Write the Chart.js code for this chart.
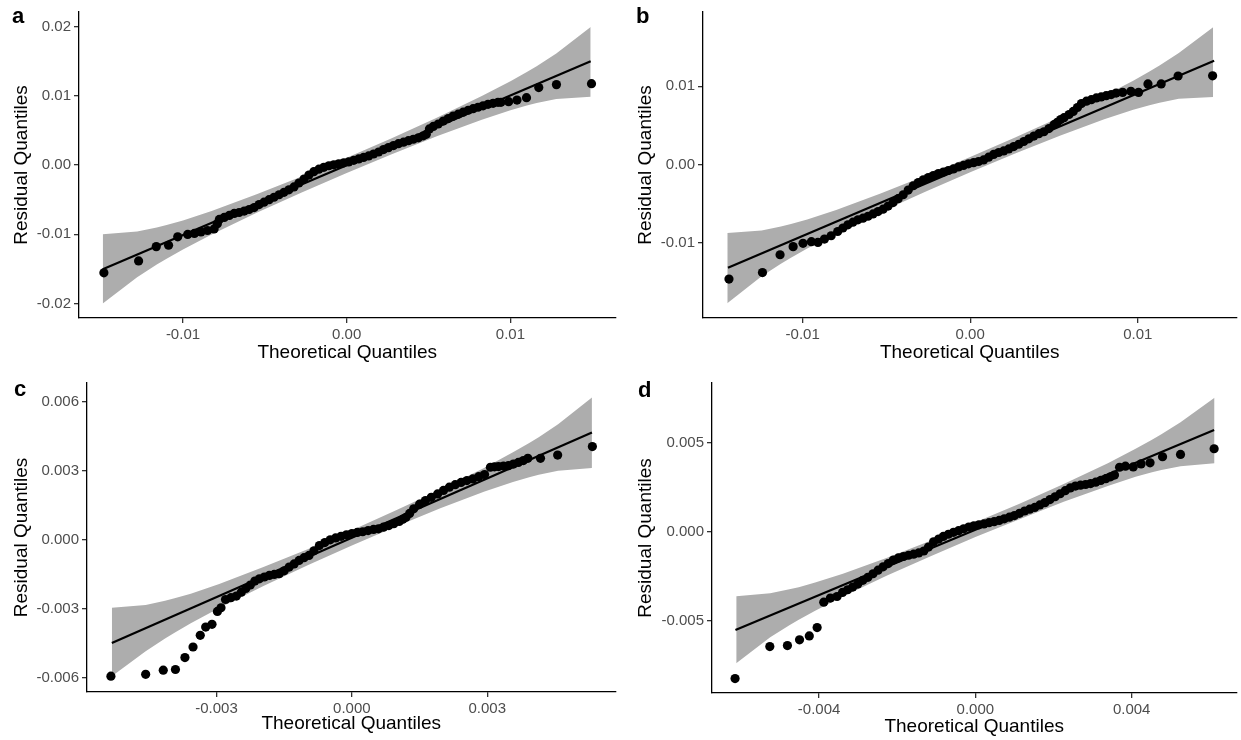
<!DOCTYPE html>
<html>
<head>
<meta charset="utf-8">
<script src="https://cdn.jsdelivr.net/npm/chart.js@4/dist/chart.umd.min.js"></script>
<style>
  body { margin: 0; background: #fff; }
  #wrap { position: relative; width: 1241px; height: 740px; overflow: hidden; font-family: "Liberation Sans", Arial, sans-serif; }
  canvas { position: absolute; }
  .tag { position: absolute; font-weight: bold; font-size: 22px; line-height: 22px; color: #000; }
</style>
</head>
<body>
<div id="wrap">
  <canvas id="ca" width="620" height="370" style="left:0;top:0"></canvas>
  <canvas id="cb" width="621" height="370" style="left:620px;top:0"></canvas>
  <canvas id="cc" width="620" height="370" style="left:0;top:370px"></canvas>
  <canvas id="cd" width="621" height="370" style="left:620px;top:370px"></canvas>
  <div class="tag" style="left:12px;top:5px">a</div>
  <div class="tag" style="left:636px;top:5px">b</div>
  <div class="tag" style="left:14px;top:378px">c</div>
  <div class="tag" style="left:638px;top:379px">d</div>
</div>
<script>
// panel a
const aX = [-0.01483, -0.01271, -0.01163, -0.01088, -0.01032, -0.00971, -0.0093, -0.0089, -0.0085, -0.0081, -0.0079,
  -0.00778, -0.00748, -0.00717, -0.00687, -0.00657, -0.00626, -0.00596, -0.00565, -0.00535, -0.00505, -0.00474, -0.00444,
  -0.00413, -0.00383, -0.00353, -0.00322, -0.00292, -0.00261, -0.00231, -0.00201, -0.0017, -0.0014, -0.00109, -0.00079,
  -0.00049, -0.00018, 0.00012, 0.00043, 0.00073, 0.00103, 0.00134, 0.00164, 0.00195, 0.00225, 0.00255, 0.00286, 0.00316,
  0.00347, 0.00377, 0.00407, 0.00438, 0.00468, 0.00486, 0.00505, 0.00529, 0.00559, 0.0059, 0.0062, 0.0065, 0.00681, 0.00711,
  0.00742, 0.00772, 0.00802, 0.00833, 0.00863, 0.00894, 0.00924, 0.00942, 0.00989, 0.0104, 0.01098, 0.01173, 0.01281, 0.01495]
const aY = [-0.01557, -0.01386, -0.01179, -0.01159, -0.01037, -0.01003, -0.00989, -0.00966, -0.00946, -0.00923, -0.0085,
  -0.00786, -0.00757, -0.00729, -0.007, -0.00686, -0.00665, -0.00643, -0.00615, -0.00572, -0.00537, -0.00501, -0.00466,
  -0.0043, -0.00395, -0.00359, -0.00317, -0.0026, -0.00203, -0.00146, -0.00097, -0.00061, -0.00033, -0.00011, 0.00003,
  0.00017, 0.00031, 0.00045, 0.00067, 0.00088, 0.00109, 0.00131, 0.00159, 0.00188, 0.00223, 0.00251, 0.0028, 0.00308,
  0.0033, 0.00351, 0.00372, 0.00393, 0.00422, 0.00443, 0.00521, 0.00557, 0.00592, 0.00635, 0.0067, 0.00706, 0.00734, 0.00763,
  0.00791, 0.00813, 0.00834, 0.00855, 0.00876, 0.00891, 0.00905, 0.00905, 0.00915, 0.00938, 0.00972, 0.01118, 0.01161, 0.01175]
const aLineX = [-0.0149, 0.0149]
const aLineY = [-0.01506, 0.01497]
const aBandX = [-0.0149, -0.0128, -0.0116, -0.011, -0.01, -0.00825, -0.0055, -0.00275, 0, 0.00275, 0.0055, 0.00825, 0.01, 0.011, 0.0116, 0.0128, 0.0149]
const aBandHi = [-0.01, -0.00962, -0.00903, -0.00867, -0.008, -0.00664, -0.00424, -0.00166, 0.00106, 0.00388, 0.00681, 0.00995, 0.0121, 0.01344, 0.01428, 0.01611, 0.01993]
const aBandLo = [-0.02, -0.0162, -0.01437, -0.01353, -0.0122, -0.01004, -0.0069, -0.00397, -0.00115, 0.00157, 0.00415, 0.00655, 0.0079, 0.00858, 0.00894, 0.00953, 0.00985]
const aXTicks = [-0.01, 0, 0.01]
const aYTicks = [-0.02, -0.01, 0, 0.01, 0.02]

// panel b
const bX = [-0.0144, -0.0124, -0.01135, -0.01057, -0.00998, -0.00948, -0.00909, -0.0087, -0.0083, -0.00791,
  -0.0076, -0.0073, -0.007, -0.0067, -0.0064, -0.0061, -0.0058, -0.0055, -0.0052, -0.0049, -0.0046, -0.0043, -0.004,
  -0.0037, -0.0034, -0.0031, -0.0028, -0.0025, -0.0022, -0.0019, -0.0016, -0.0013, -0.001, -0.0007, -0.0004, -0.0001,
  0.0002, 0.0005, 0.0008, 0.0011, 0.0014, 0.0017, 0.002, 0.0023, 0.0026, 0.0029, 0.0032, 0.0035, 0.0038, 0.0041, 0.0044,
  0.0047, 0.005, 0.0052, 0.0054, 0.0056, 0.0059, 0.00615, 0.0064, 0.00664, 0.00694, 0.00723, 0.00753, 0.00782, 0.00812,
  0.00842, 0.00871, 0.0091, 0.00959, 0.01005, 0.01061, 0.0114, 0.01241, 0.01447]
const bY = [-0.01463, -0.01379, -0.01152, -0.01048, -0.01006, -0.00985, -0.00994, -0.00951, -0.00909, -0.00855,
  -0.0081, -0.0077, -0.00735, -0.00705, -0.00685, -0.0066, -0.0063, -0.006, -0.0057, -0.0053, -0.00485, -0.00435, -0.00385,
  -0.00325, -0.0027, -0.0023, -0.00195, -0.00165, -0.0014, -0.00115, -0.00095, -0.00075, -0.00055, -0.0003, -0.0001, 0.0001,
  0.00025, 0.0004, 0.0006, 0.00095, 0.0013, 0.00155, 0.00175, 0.002, 0.0023, 0.0026, 0.00295, 0.0033, 0.00365, 0.00395, 0.0042,
  0.0046, 0.0051, 0.0054, 0.00575, 0.006, 0.0064, 0.0068, 0.0073, 0.0078, 0.0081, 0.0083, 0.00852, 0.00865, 0.00881,
  0.00895, 0.00914, 0.00923, 0.00936, 0.00923, 0.01031, 0.01031, 0.01132, 0.01135]
const bLineX = [-0.01446, 0.01456]
const bLineY = [-0.01317, 0.01326]
const bBandX = [-0.0145, -0.01245, -0.0113, -0.0107, -0.00973, -0.008, -0.00535, -0.00268, 0, 0.00268, 0.00535, 0.008, 0.00973, 0.0107, 0.0113, 0.01245, 0.0145]
const bBandHi = [-0.00875, -0.00843, -0.00792, -0.0076, -0.007, -0.00579, -0.00369, -0.00142, 0.00098, 0.00346, 0.00605, 0.00879, 0.01072, 0.0119, 0.01266, 0.01425, 0.01755]
const bBandLo = [-0.0177, -0.01425, -0.01266, -0.0119, -0.01072, -0.00879, -0.00605, -0.00346, -0.00098, 0.00142, 0.00369, 0.00579, 0.007, 0.0076, 0.00792, 0.00843, 0.00865]
const bXTicks = [-0.01, 0, 0.01]
const bYTicks = [-0.01, 0, 0.01]

// panel c
const cX = [-0.00534, -0.00457, -0.00418, -0.00391, -0.0037, -0.00352, -0.00336, -0.00324, -0.0031, -0.00298, -0.0029,
  -0.0028, -0.00268, -0.00256, -0.00245, -0.00235, -0.00225, -0.00215, -0.00205, -0.00194, -0.00183, -0.00172, -0.00161,
  -0.0015, -0.00139, -0.00128, -0.00117, -0.00106, -0.00095, -0.00084, -0.00072, -0.0006, -0.00048, -0.00036, -0.00024,
  -0.00012, 0, 0.00012, 0.00024, 0.00036, 0.00048, 0.00059, 0.0007, 0.00082, 0.00093, 0.00105, 0.00113, 0.0012, 0.00128,
  0.00137, 0.0015, 0.00163, 0.00176, 0.0019, 0.00203, 0.00216, 0.00229, 0.00242, 0.00255, 0.00268, 0.00281, 0.00294,
  0.00307, 0.00316, 0.00325, 0.00336, 0.00347, 0.00358, 0.00369, 0.0038, 0.0039, 0.00418, 0.00456, 0.00533]
const cY = [-0.00594, -0.00586, -0.00568, -0.00565, -0.00513, -0.00467, -0.00416, -0.0038, -0.00368, -0.00312, -0.00296,
  -0.0026, -0.00252, -0.00245, -0.00228, -0.00212, -0.00197, -0.0018, -0.0017, -0.00162, -0.00155, -0.00151, -0.00148,
  -0.00135, -0.00119, -0.00105, -0.0009, -0.00078, -0.00068, -0.00048, -0.00025, -0.00012, 0, 0.00008, 0.00015,
  0.00022, 0.00027, 0.00032, 0.00035, 0.0004, 0.00045, 0.00048, 0.00055, 0.00062, 0.0007, 0.0008, 0.0009, 0.00098, 0.00115,
  0.00135, 0.00155, 0.00171, 0.00185, 0.002, 0.00215, 0.00229, 0.0024, 0.0025, 0.00258, 0.00265, 0.00275, 0.00284,
  0.00316, 0.00318, 0.00319, 0.00321, 0.00323, 0.0033, 0.00337, 0.00345, 0.00355, 0.00355, 0.00369, 0.00406]
const cLineX = [-0.00532, 0.00532]
const cLineY = [-0.0045, 0.00467]
const cBandX = [-0.00532, -0.00457, -0.00414, -0.00393, -0.00357, -0.00294, -0.00196, -0.00098, 0, 0.00098, 0.00196, 0.00294, 0.00357, 0.00393, 0.00414, 0.00457, 0.00532]
const cBandHi = [-0.00296, -0.00284, -0.00266, -0.00255, -0.00235, -0.00193, -0.00119, -0.00041, 0.00042, 0.00129, 0.00218, 0.00314, 0.00381, 0.00422, 0.00447, 0.00503, 0.0062]
const cBandLo = [-0.00594, -0.00486, -0.0043, -0.00405, -0.00364, -0.00297, -0.00201, -0.00111, -0.00025, 0.00058, 0.00137, 0.0021, 0.00252, 0.00272, 0.00283, 0.00301, 0.00313]
const cXTicks = [-0.003, 0, 0.003]
const cYTicks = [-0.006, -0.003, 0, 0.003, 0.006]

// panel d
const dX = [-0.00615, -0.00526, -0.00481, -0.0045, -0.00425, -0.00405, -0.00388, -0.00371, -0.00354,
  -0.0034, -0.00327, -0.00314, -0.00301, -0.00288, -0.00275, -0.00262, -0.00249, -0.00236, -0.00223, -0.0021, -0.00197,
  -0.00184, -0.00171, -0.00158, -0.00145, -0.00132, -0.0012, -0.00107, -0.00094, -0.00082, -0.00069, -0.00056, -0.00043,
  -0.0003, -0.00017, -0.00004, 0.00009, 0.00022, 0.00035, 0.00048, 0.00061, 0.00074, 0.00087, 0.001, 0.00113, 0.00126,
  0.00139, 0.00152, 0.00165, 0.00178, 0.00191, 0.00204, 0.00217, 0.0023, 0.00243, 0.00256, 0.00269, 0.00282, 0.00295,
  0.00308, 0.00321, 0.00334, 0.00346, 0.00356, 0.00369, 0.00384, 0.00404, 0.00424, 0.00447, 0.00479, 0.00525, 0.00611]
const dY = [-0.00825, -0.00645, -0.00639, -0.00607, -0.00585, -0.00538, -0.00395, -0.00372, -0.00363,
  -0.0034, -0.00325, -0.0031, -0.00293, -0.00272, -0.00255, -0.00235, -0.00215, -0.00196, -0.00178, -0.00158, -0.00146,
  -0.00138, -0.00131, -0.00125, -0.00118, -0.00107, -0.00085, -0.00055, -0.0004, -0.00025, -0.00013, -0.00002, 0.00007,
  0.00018, 0.00028, 0.00035, 0.0004, 0.00045, 0.00052, 0.00058, 0.00065, 0.00074, 0.00083, 0.00092, 0.00105, 0.00118,
  0.00128, 0.00138, 0.00152, 0.00165, 0.00182, 0.00198, 0.00215, 0.00232, 0.00248, 0.00258, 0.00263, 0.00267, 0.00272,
  0.0028, 0.0029, 0.003, 0.0031, 0.0032, 0.00364, 0.0037, 0.00366, 0.00383, 0.00389, 0.00423, 0.00436, 0.00468]
const dLineX = [-0.00614, 0.00611]
const dLineY = [-0.00551, 0.00573]
const dBandX = [-0.00612, -0.00525, -0.00476, -0.00452, -0.0041, -0.00339, -0.00226, -0.00113, 0, 0.00113, 0.00226, 0.00339, 0.0041, 0.00452, 0.00476, 0.00525, 0.00612]
const dBandHi = [-0.00362, -0.00345, -0.00323, -0.00311, -0.00285, -0.00235, -0.00145, -0.00048, 0.00054, 0.00159, 0.0027, 0.00387, 0.00468, 0.00519, 0.00549, 0.00617, 0.00755]
const dBandLo = [-0.00739, -0.00593, -0.00525, -0.00494, -0.00443, -0.00363, -0.00245, -0.00135, -0.00029, 0.00072, 0.0017, 0.00259, 0.0031, 0.00336, 0.00348, 0.0037, 0.00386]
const dXTicks = [-0.004, 0, 0.004]
const dYTicks = [-0.005, 0, 0.005]

const FONT = '"Liberation Sans", Arial, sans-serif'
const pts = (xs, ys) => xs.map((x, i) => ({x: x, y: ys[i]}))

function panel(id, d) {
  const ctx = document.getElementById(id)
  new Chart(ctx, {
    type: 'line',
    data: {
      datasets: [
        {data: pts(d.px, d.py), showLine: false, pointRadius: 4.6, pointBackgroundColor: '#000', pointBorderWidth: 0, order: 0},
        {data: pts(d.lx, d.ly), borderColor: '#000', borderWidth: 2.2, pointRadius: 0, order: 1},
        {data: pts(d.bx, d.hi), borderWidth: 0, pointRadius: 0, fill: '+1', backgroundColor: '#adadad', order: 2},
        {data: pts(d.bx, d.lo), borderWidth: 0, pointRadius: 0, fill: false, order: 3}
      ]
    },
    options: {
      responsive: false,
      animation: false,
      devicePixelRatio: 1,
      layout: {padding: d.pad},
      plugins: {legend: {display: false}, tooltip: {enabled: false}},
      elements: {line: {tension: 0}},
      scales: {
        x: {
          type: 'linear', min: d.xr[0], max: d.xr[1],
          afterBuildTicks: s => { s.ticks = d.xt.map(v => ({value: v})) },
          afterFit: s => { s.height = d.xh },
          grid: {display: true, drawOnChartArea: false, drawTicks: true, tickLength: 5, color: '#333', lineWidth: 1.3},
          border: {display: true, color: '#000', width: 1.3},
          ticks: {color: '#4d4d4d', font: {family: FONT, size: 15}, padding: 3, maxRotation: 0, autoSkip: false,
            callback: v => v.toFixed(d.dec)},
          title: {display: true, text: 'Theoretical Quantiles', color: '#000', font: {family: FONT, size: 19},
            padding: {top: 0, bottom: d.xtp}}
        },
        y: {
          type: 'linear', min: d.yr[0], max: d.yr[1],
          afterBuildTicks: s => { s.ticks = d.yt.map(v => ({value: v})) },
          afterFit: s => { s.width = d.yw },
          grid: {display: true, drawOnChartArea: false, drawTicks: true, tickLength: 5, color: '#333', lineWidth: 1.3},
          border: {display: true, color: '#000', width: 1.3},
          ticks: {color: '#4d4d4d', font: {family: FONT, size: 15}, padding: 3, autoSkip: false,
            callback: v => v.toFixed(d.dec)},
          title: {display: true, text: 'Residual Quantiles', color: '#000', font: {family: FONT, size: 19},
            padding: {top: d.ytp, bottom: 0}}
        }
      }
    }
  })
}

panel('ca', {px: aX, py: aY, lx: aLineX, ly: aLineY, bx: aBandX, hi: aBandHi, lo: aBandLo, xt: aXTicks, yt: aYTicks,
  xr: [-0.01635, 0.01641], yr: [-0.0221, 0.0221], dec: 2, pad: {top: 7, right: 2, left: 0, bottom: 0}, yw: 79, xh: 52, ytp: 10, xtp: 6})
panel('cb', {px: bX, py: bY, lx: bLineX, ly: bLineY, bx: bBandX, hi: bBandHi, lo: bBandLo, xt: bXTicks, yt: bYTicks,
  xr: [-0.01595, 0.01589], yr: [-0.0196, 0.0195], dec: 2, pad: {top: 7, right: 0, left: 0, bottom: 0}, yw: 83, xh: 52, ytp: 14, xtp: 5.6})
panel('cc', {px: cX, py: cY, lx: cLineX, ly: cLineY, bx: cBandX, hi: cBandHi, lo: cBandLo, xt: cXTicks, yt: cYTicks,
  xr: [-0.00587, 0.00584], yr: [-0.00663, 0.00683], dec: 3, pad: {top: 13, right: 2, left: 0, bottom: 0}, yw: 87, xh: 48, ytp: 10, xtp: 5.3})
panel('cd', {px: dX, py: dY, lx: dLineX, ly: dLineY, bx: dBandX, hi: dBandHi, lo: dBandLo, xt: dXTicks, yt: dYTicks,
  xr: [-0.00674, 0.00668], yr: [-0.00906, 0.00838], dec: 3, pad: {top: 13, right: 0, left: 0, bottom: 0}, yw: 92, xh: 47, ytp: 14, xtp: 2})
</script>
</body>
</html>
